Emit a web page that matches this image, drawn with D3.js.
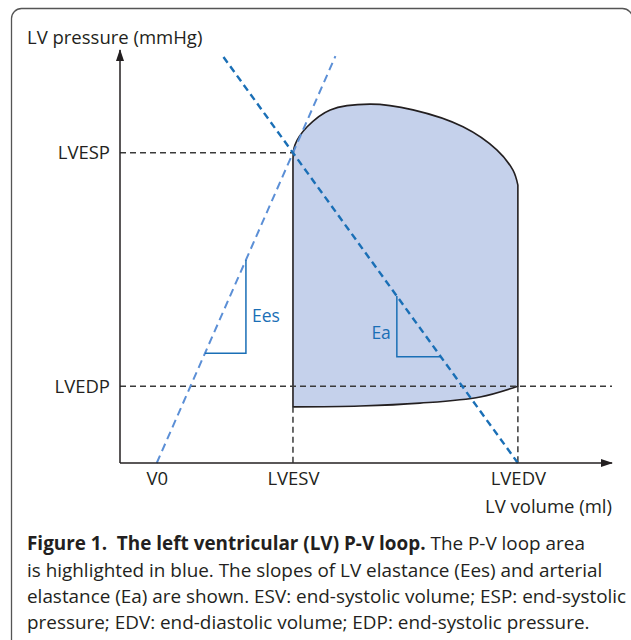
<!DOCTYPE html>
<html>
<head>
<meta charset="utf-8">
<script src="https://cdn.jsdelivr.net/npm/d3@7"></script>
<style>
  html, body { margin: 0; padding: 0; background: #fff; }
  svg { display: block; font-family: "Open Sans", "Noto Sans", sans-serif; }
</style>
</head>
<body>
<svg id="chart" width="631" height="640"></svg>
<script>
// ---- data (abstract units: volume 0-100, pressure 0-100) ----
const xTickLabels = ["V0", "LVESV", "LVEDV"];
const xTickValues = [7.5, 35.3, 81.2];
const yTickLabels = ["LVEDP", "LVESP"];
const yTickValues = [18.6, 75.1];

// upper (ejection) arc of the loop, from top of isovolumic contraction to start of relaxation
const loopTopV = [35.3, 35.7, 38.2, 42.9, 51.0, 59.8, 70.0, 76.9, 80.2, 81.2];
const loopTopP = [73.4, 77.0, 81.4, 85.5, 86.9, 85.5, 81.4, 75.8, 70.9, 67.3];
// lower (filling) arc, from end-diastole back to start
const loopBottomV = [81.2, 73.5, 61.2, 49.0, 35.3];
const loopBottomP = [18.6, 16.0, 14.5, 13.8, 13.6];

const lineTopP = 98.5;               // how far the Ees / Ea lines extend upward
const eesTriangle = { v: 25.7, p: 26.6 };
const eaTriangle = { v: 56.5, p: 25.7 };

const captionBold = "Figure 1.\u00A0 The left ventricular (LV) P-V loop.";
const captionLines = [
  " The P-V loop area",
  "is highlighted in blue. The slopes of LV elastance (Ees) and arterial",
  "elastance (Ea) are shown. ESV: end-systolic volume; ESP: end-systolic",
  "pressure; EDV: end-diastolic volume; EDP: end-systolic pressure."
];

// ---- setup ----
const svg = d3.select("#chart");
const textCol = "#231f20";
const eesCol = "#5b8fd6";
const eaCol = "#1a6fb6";
const fillCol = "#c5d1eb";
const fs = 18.5;

const x = d3.scaleLinear().domain([0, 100]).range([120, 610]);
const y = d3.scaleLinear().domain([0, 100]).range([463, 50]);

// frame
svg.append("rect")
  .attr("x", 11.5).attr("y", 8.5)
  .attr("width", 621).attr("height", 680)
  .attr("rx", 10).attr("ry", 10)
  .attr("fill", "none").attr("stroke", "#555").attr("stroke-width", 1.3);

// arrow marker
const defs = svg.append("defs");
defs.append("marker")
  .attr("id", "arrow")
  .attr("viewBox", "0 0 12 8")
  .attr("refX", 11).attr("refY", 4)
  .attr("markerWidth", 12).attr("markerHeight", 8)
  .attr("markerUnits", "userSpaceOnUse")
  .attr("orient", "auto")
  .append("path")
  .attr("d", "M0,0 L12,4 L0,8 Z")
  .attr("fill", textCol);

const [V0, LVESV, LVEDV] = xTickValues;
const [LVEDP, LVESP] = yTickValues;

// ---- P-V loop ----
const arc = d3.line().x(d => x(d[0])).y(d => y(d[1])).curve(d3.curveCatmullRom.alpha(0.5));
const topPts = loopTopV.map((v, i) => [v, loopTopP[i]]);
const botPts = loopBottomV.map((v, i) => [v, loopBottomP[i]]);
const topPath = arc(topPts);
const botPath = arc(botPts);
const loopPath =
  `M${x(botPts[botPts.length - 1][0])},${y(botPts[botPts.length - 1][1])}` +
  "L" + topPath.slice(1) +
  "L" + botPath.slice(1) + "Z";
svg.append("path")
  .attr("d", loopPath)
  .attr("fill", fillCol)
  .attr("stroke", textCol)
  .attr("stroke-width", 1.6)
  .attr("stroke-linejoin", "round");

// ---- reference dashed lines ----
const refG = svg.append("g")
  .attr("stroke", "#3a3a3a").attr("stroke-width", 1.5)
  .attr("stroke-dasharray", "6,4").attr("fill", "none");
refG.append("line")
  .attr("x1", x(0)).attr("x2", x(LVESV))
  .attr("y1", y(LVESP)).attr("y2", y(LVESP));
refG.append("line")
  .attr("x1", x(0)).attr("x2", x(100) + 2)
  .attr("y1", y(LVEDP)).attr("y2", y(LVEDP));
refG.append("line")
  .attr("x1", x(LVESV)).attr("x2", x(LVESV))
  .attr("y1", y(loopBottomP[loopBottomP.length - 1])).attr("y2", y(0));
refG.append("line")
  .attr("x1", x(LVEDV)).attr("x2", x(LVEDV))
  .attr("y1", y(LVEDP)).attr("y2", y(0));

// ---- Ees line (V0 -> ESP point) ----
const eesSlope = LVESP / (LVESV - V0);
svg.append("line")
  .attr("x1", x(V0)).attr("y1", y(0))
  .attr("x2", x(V0 + lineTopP / eesSlope)).attr("y2", y(lineTopP))
  .attr("stroke", eesCol).attr("stroke-width", 2)
  .attr("stroke-dasharray", "8,5");

// ---- Ea line (EDV -> ESP point) ----
const eaSlope = LVESP / (LVEDV - LVESV);
svg.append("line")
  .attr("x1", x(LVEDV)).attr("y1", y(0))
  .attr("x2", x(LVEDV - lineTopP / eaSlope)).attr("y2", y(lineTopP))
  .attr("stroke", eaCol).attr("stroke-width", 2.4)
  .attr("stroke-dasharray", "7,4.5");

// ---- slope triangles ----
const eesLeftV = V0 + eesTriangle.p / eesSlope;
const eesTopP = (eesTriangle.v - V0) * eesSlope;
svg.append("path")
  .attr("d", `M${x(eesLeftV)},${y(eesTriangle.p)}H${x(eesTriangle.v)}V${y(eesTopP)}`)
  .attr("fill", "none").attr("stroke", eaCol).attr("stroke-width", 1.5);
svg.append("text")
  .attr("x", x(eesTriangle.v) + 6).attr("y", 322)
  .attr("fill", eaCol).attr("font-size", 17.5).text("Ees");

const eaRightV = LVEDV - eaTriangle.p / eaSlope;
const eaTopP = (LVEDV - eaTriangle.v) * eaSlope;
svg.append("path")
  .attr("d", `M${x(eaRightV)},${y(eaTriangle.p)}H${x(eaTriangle.v)}V${y(eaTopP)}`)
  .attr("fill", "none").attr("stroke", eaCol).attr("stroke-width", 1.5);
svg.append("text")
  .attr("x", x(eaTriangle.v) - 6).attr("y", 339)
  .attr("text-anchor", "end")
  .attr("fill", eaCol).attr("font-size", 17.5).text("Ea");

// ---- axes ----
const xAxis = d3.axisBottom(x)
  .tickValues(xTickValues)
  .tickFormat((d, i) => xTickLabels[i])
  .tickSize(0).tickSizeOuter(0).tickPadding(9);
const gx = svg.append("g").attr("transform", `translate(0,${y(0)})`).call(xAxis);
gx.select(".domain")
  .attr("d", `M${x(0)},0H${x(100) + 2}`)
  .attr("stroke", textCol).attr("stroke-width", 1.5)
  .attr("marker-end", "url(#arrow)");
gx.selectAll("text").attr("font-size", fs).attr("fill", textCol)
  .attr("font-family", '"Open Sans", sans-serif');

const yAxis = d3.axisLeft(y)
  .tickValues(yTickValues)
  .tickFormat((d, i) => yTickLabels[i])
  .tickSize(0).tickSizeOuter(0).tickPadding(10);
const gy = svg.append("g").attr("transform", `translate(${x(0)},0)`).call(yAxis);
gy.select(".domain")
  .attr("d", `M0,${y(0)}V${y(100)}`)
  .attr("stroke", textCol).attr("stroke-width", 1.5)
  .attr("marker-end", "url(#arrow)");
gy.selectAll("text").attr("font-size", fs).attr("fill", textCol)
  .attr("font-family", '"Open Sans", sans-serif');

// axis titles
svg.append("text").attr("x", 27).attr("y", 44)
  .attr("font-size", fs).attr("fill", textCol).text("LV pressure (mmHg)");
svg.append("text").attr("x", 612).attr("y", 513).attr("text-anchor", "end")
  .attr("font-size", fs).attr("fill", textCol).text("LV volume (ml)");

// ---- caption ----
const cap = svg.append("g").attr("fill", textCol).attr("font-size", 18.9);
const l1 = cap.append("text").attr("x", 27).attr("y", 550);
l1.append("tspan").attr("font-weight", "bold").text(captionBold);
l1.append("tspan").text("\u00A0" + captionLines[0].trim());
captionLines.slice(1).forEach((t, i) => {
  cap.append("text").attr("x", 27).attr("y", 577 + i * 25.8).text(t);
});
</script>
</body>
</html>
